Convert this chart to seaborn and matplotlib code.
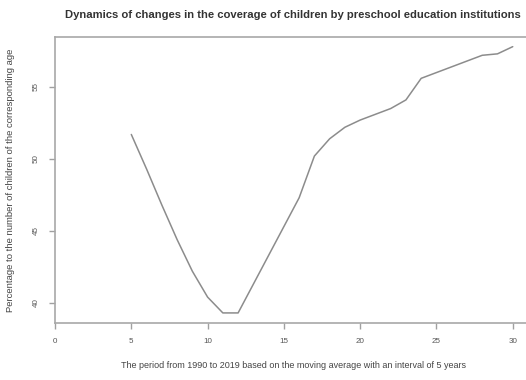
import matplotlib
matplotlib.use("Agg")
import matplotlib.pyplot as plt
import seaborn as sns
import pandas as pd

# Moving-average coverage of children by preschool institutions (5-year window)
period = [5, 6, 7, 8, 9, 10, 11, 12, 13, 14, 15, 16, 17, 18, 19,
          20, 21, 22, 23, 24, 25, 26, 27, 28, 29, 30]
coverage = [51.7, 49.3, 46.8, 44.4, 42.2, 40.4, 39.3, 39.3, 41.3, 43.3,
            45.3, 47.3, 50.2, 51.4, 52.2, 52.7, 53.1, 53.5, 54.1, 55.6,
            56.0, 56.4, 56.8, 57.2, 57.3, 57.8]
x_ticks = [0, 5, 10, 15, 20, 25, 30]
y_ticks = [40, 45, 50, 55]

title = "Dynamics of changes in the coverage of children by preschool education institutions"
x_label = "The period from 1990 to 2019 based on the moving average with an interval of 5 years"
y_label = "Percentage to the number of children of the corresponding age"

df = pd.DataFrame({"period": period, "coverage": coverage})

sns.set_style("ticks")
plt.rcParams["font.family"] = ["Liberation Sans", "DejaVu Sans"]

fig = plt.figure(figsize=(5.26, 3.8), dpi=100)
ax = fig.add_axes([0.1046, 0.15, 0.905, 0.7526])

sns.lineplot(data=df, x="period", y="coverage", ax=ax, color="#8c8c8c", linewidth=1.1)

ax.set_xlim(0, 31.2)
ax.set_ylim(38.6, 58.47)
ax.set_xticks(x_ticks)
ax.set_yticks(y_ticks)
ax.set_xticklabels([str(v) for v in x_ticks], fontsize=5.8, color="#555555")
ax.set_yticklabels([str(v) for v in y_ticks], fontsize=5.8, color="#555555",
                   rotation=90, va="center")
ax.tick_params(axis="both", direction="out", length=4, width=1.0, color="#a0a0a0", pad=7)

for side in ["left", "bottom", "top", "right"]:
    ax.spines[side].set_color("#a8a8a8")
    ax.spines[side].set_linewidth(1.2)

ax.set_xlabel(x_label, fontsize=6.5, color="#444444", labelpad=11)
ax.set_ylabel(y_label, fontsize=6.8, color="#444444", labelpad=13)
ax.set_title(title, fontsize=8.1, fontweight="bold", color="#333333", pad=14)

fig.savefig("out.png", dpi=100)
